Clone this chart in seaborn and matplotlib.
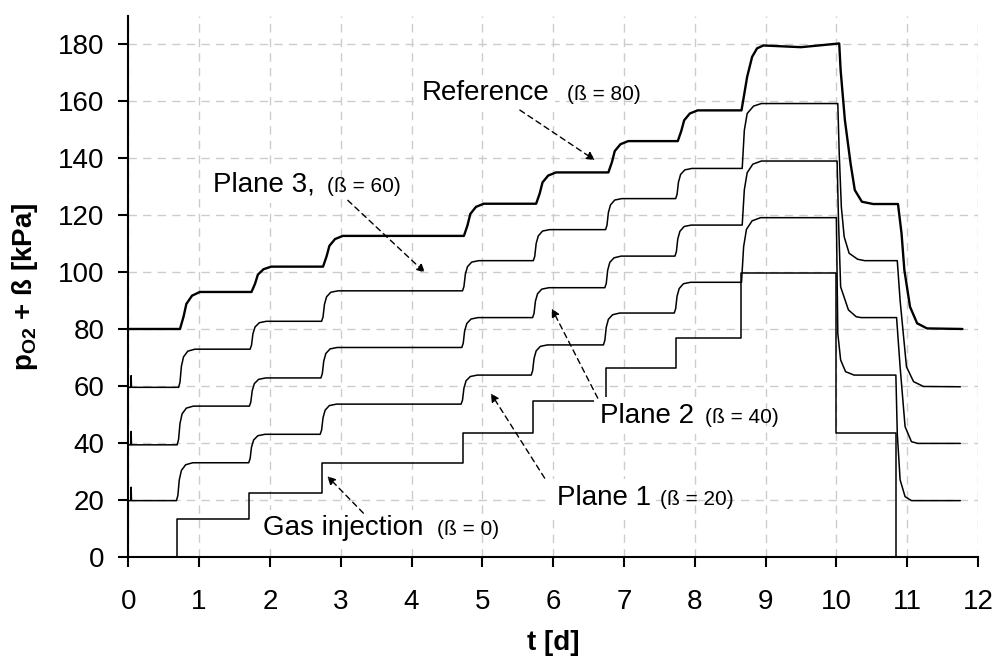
import matplotlib
matplotlib.use('Agg')
import matplotlib.pyplot as plt
import seaborn as sns

# values (t in days, p in kPa incl. offset beta)
gas_t = [0.69, 0.69, 1.71, 2.73, 4.72, 5.71, 6.75, 7.74, 8.65, 10.00, 10.84]
gas_y = [0, 13.1, 22.3, 32.8, 43.6, 54.8, 66.2, 76.9, 99.5, 43.6, 0]

plane1_t = [0.00, 0.035, 0.04, 0.045,
            0.68, 0.70, 0.72, 0.75, 0.81, 0.91,
            1.70, 1.72, 1.74, 1.77, 1.83, 1.93,
            2.71, 2.73, 2.75, 2.78, 2.84, 2.94,
            4.70, 4.72, 4.74, 4.77, 4.83, 4.93,
            5.69, 5.71, 5.73, 5.76, 5.82, 5.92,
            6.71, 6.73, 6.75, 6.78, 6.84, 6.94,
            7.71, 7.73, 7.75, 7.78, 7.84, 7.94,
            8.66, 8.69, 8.73, 8.81, 8.93,
            10.00, 10.02, 10.06, 10.13, 10.25,
            10.84, 10.86, 10.90, 10.97, 11.06, 11.75]
plane1_y = [19.7, 19.7, 24.4, 19.7,
            19.7, 21.5, 27.0, 30.3, 32.3, 33.0,
            33.0, 34.4, 38.5, 41.0, 42.5, 43.0,
            43.0, 44.5, 48.8, 51.5, 53.1, 53.6,
            53.6, 55.0, 59.2, 61.8, 63.3, 63.8,
            63.8, 65.3, 69.6, 72.3, 73.9, 74.4,
            74.4, 76.0, 80.6, 83.4, 85.0, 85.6,
            85.6, 87.1, 91.5, 94.2, 95.9, 96.4,
            96.4, 108.9, 115.0, 118.0, 119.1,
            119.1, 78.5, 69.1, 65.0, 63.8,
            63.8, 43.3, 27.0, 21.1, 19.7, 19.7]

plane2_t = [0.00, 0.035, 0.04, 0.045,
            0.69, 0.71, 0.73, 0.76, 0.82, 0.92,
            1.71, 1.73, 1.75, 1.78, 1.84, 1.94,
            2.72, 2.74, 2.76, 2.79, 2.85, 2.95,
            4.71, 4.73, 4.75, 4.78, 4.84, 4.94,
            5.71, 5.73, 5.75, 5.78, 5.84, 5.94,
            6.73, 6.75, 6.77, 6.80, 6.86, 6.96,
            7.72, 7.74, 7.76, 7.79, 7.85, 7.95,
            8.67, 8.70, 8.74, 8.82, 8.94,
            10.01, 10.03, 10.06, 10.17, 10.28, 10.35,
            10.85, 10.90, 10.97, 11.06, 11.15, 11.75]
plane2_y = [39.3, 39.3, 44.0, 39.3,
            39.3, 41.2, 46.8, 50.2, 52.2, 52.9,
            52.9, 54.3, 58.3, 60.8, 62.3, 62.8,
            62.8, 64.3, 68.7, 71.4, 73.0, 73.5,
            73.5, 75.0, 79.3, 81.9, 83.5, 84.0,
            84.0, 85.5, 89.8, 92.4, 94.0, 94.5,
            94.5, 96.0, 100.6, 103.4, 105.0, 105.6,
            105.6, 107.1, 111.6, 114.3, 116.0, 116.5,
            116.5, 128.9, 134.9, 137.9, 139.0,
            139.0, 118.3, 94.8, 86.7, 84.3, 84.0,
            84.0, 66.7, 45.7, 40.4, 39.8, 39.8]

plane3_t = [0.00, 0.035, 0.04, 0.045,
            0.71, 0.73, 0.75, 0.78, 0.84, 0.94,
            1.72, 1.74, 1.76, 1.79, 1.85, 1.95,
            2.73, 2.75, 2.77, 2.80, 2.86, 2.96,
            4.72, 4.74, 4.76, 4.79, 4.85, 4.95,
            5.72, 5.74, 5.76, 5.79, 5.85, 5.95,
            6.74, 6.76, 6.78, 6.81, 6.87, 6.97,
            7.73, 7.75, 7.77, 7.80, 7.86, 7.96,
            8.67, 8.70, 8.74, 8.83, 8.94,
            10.02, 10.04, 10.07, 10.11, 10.18, 10.30, 10.40,
            10.86, 10.90, 10.99, 11.09, 11.23, 11.75]
plane3_y = [59.5, 59.5, 63.6, 59.5,
            59.5, 61.3, 66.9, 70.2, 72.2, 72.9,
            72.9, 74.3, 78.3, 80.7, 82.2, 82.7,
            82.7, 84.2, 88.6, 91.3, 92.9, 93.4,
            93.4, 94.9, 99.2, 101.9, 103.5, 104.0,
            104.0, 105.5, 110.0, 112.7, 114.4, 114.9,
            114.9, 116.4, 120.9, 123.6, 125.3, 125.8,
            125.8, 127.3, 131.6, 134.3, 135.9, 136.4,
            136.4, 149.8, 155.7, 158.3, 159.2,
            159.2, 141.7, 122.9, 112.4, 106.6, 104.5, 104.0,
            104.0, 90.0, 66.7, 61.5, 59.8, 59.7]

ref_t = [0.00,
         0.73, 0.78, 0.82, 0.90, 1.01,
         1.74, 1.79, 1.83, 1.91, 2.02,
         2.75, 2.80, 2.84, 2.92, 3.03,
         4.74, 4.79, 4.83, 4.91, 5.02,
         5.76, 5.81, 5.85, 5.93, 6.04,
         6.78, 6.83, 6.87, 6.95, 7.06,
         7.76, 7.81, 7.85, 7.93, 8.04,
         8.66, 8.74, 8.81, 8.88, 8.97, 9.50,
         10.04, 10.06, 10.12, 10.20, 10.26, 10.36, 10.52,
         10.87, 10.92, 10.96, 11.04, 11.14, 11.28, 11.78]
ref_y = [80.0,
         80.0, 84.3, 88.8, 91.7, 93.0,
         93.0, 95.9, 99.1, 101.0, 101.9,
         101.9, 105.5, 109.2, 111.6, 112.7,
         112.7, 116.4, 120.4, 122.9, 124.0,
         124.0, 127.6, 131.5, 133.9, 135.0,
         135.0, 138.6, 142.5, 144.9, 146.0,
         146.0, 149.6, 153.3, 155.7, 156.8,
         156.8, 168.6, 175.6, 178.6, 179.6, 179.0,
         180.3, 170.9, 153.4, 138.2, 128.8, 124.7, 123.9,
         123.9, 113.6, 100.7, 87.8, 82.0, 80.2, 80.0]

sns.set_style('ticks')
plt.rcParams['font.family'] = ['Liberation Sans', 'DejaVu Sans']
plt.rcParams['mathtext.fontset'] = 'custom'
plt.rcParams['mathtext.rm'] = 'Liberation Sans'
plt.rcParams['mathtext.bf'] = 'Liberation Sans:bold'
for k in ['text.color', 'axes.labelcolor', 'xtick.color', 'ytick.color', 'axes.edgecolor']:
    plt.rcParams[k] = 'black'

fig = plt.figure(figsize=(10, 6.61), dpi=100)
ax = fig.add_axes([0.1283, 0.1578, 0.8497, 0.8182])

for t, y, lw in [(plane1_t, plane1_y, 1.1), (plane2_t, plane2_y, 1.1),
                 (plane3_t, plane3_y, 1.1), (ref_t, ref_y, 1.7)]:
    sns.lineplot(x=t, y=y, ax=ax, color='black', lw=lw, estimator=None, sort=False, zorder=3)
sns.lineplot(x=gas_t, y=gas_y, ax=ax, color='black', lw=1.1, estimator=None, sort=False,
             drawstyle='steps-post', zorder=3)

ax.set_xlim(0, 12)
ax.set_ylim(0, 190)
ax.set_xticks(range(0, 13))
ax.set_yticks(range(0, 181, 20))
ax.grid(True, color='#cccccc', lw=1, linestyle=(0, (6, 4.5)))
ax.set_axisbelow(True)
sns.despine(ax=ax)
for s in ['left', 'bottom']:
    ax.spines[s].set_linewidth(1.5)
ax.tick_params(axis='both', labelsize=20, length=7, width=1.5, color='black',
               labelcolor='black', direction='out')
ax.tick_params(axis='x', pad=16)
ax.tick_params(axis='y', pad=10)
ax.set_xlabel('t [d]', fontsize=20, fontweight='bold', labelpad=11)
ax.set_ylabel(r'$\mathbf{p_{O2}}$ + ß [kPa]', fontsize=20, fontweight='bold', labelpad=13)

box = dict(facecolor='white', edgecolor='none', pad=4)
labels = [
    ('Gas injection', '(ß = 0)', 1.90, 4.36, 7.6),
    ('Plane 1', '(ß = 20)', 6.05, 7.51, 18.2),
    ('Plane 2', '(ß = 40)', 6.66, 8.15, 47.0),
    ('Plane 3,', '(ß = 60)', 1.20, 2.80, 128.2),
    ('Reference', '(ß = 80)', 4.15, 6.19, 160.4),
]
for name, beta, x1, x2, yb in labels:
    ax.text(x1, yb, name, fontsize=20, va='baseline', ha='left', bbox=box, zorder=4)
    ax.text(x2, yb, beta, fontsize=15, va='baseline', ha='left', zorder=4)

arrows = [((3.32, 15.3), (2.81, 28.3)),
          ((5.88, 27.6), (5.12, 57.4)),
          ((6.63, 55.7), (5.98, 87.2)),
          ((3.10, 125.2), (4.19, 99.8)),
          ((5.53, 156.9), (6.59, 139.3))]
for start, end in arrows:
    ax.annotate('', xy=end, xytext=start, zorder=5,
                arrowprops=dict(arrowstyle='-|>', linestyle=(0, (4, 3)), lw=1.0,
                                color='black', mutation_scale=12, shrinkA=0, shrinkB=0))

fig.savefig('out.png', dpi=100)
